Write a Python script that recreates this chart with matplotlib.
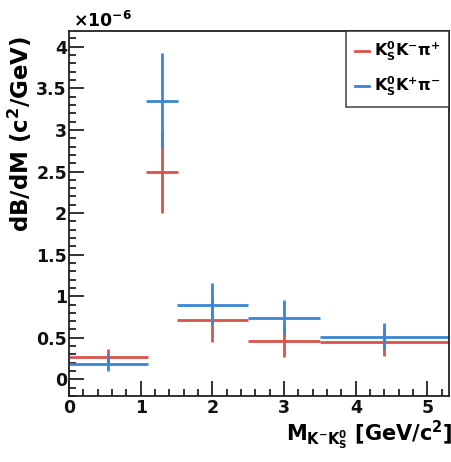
import matplotlib
matplotlib.use("Agg")
import matplotlib.pyplot as plt
from matplotlib.lines import Line2D
from matplotlib.ticker import MultipleLocator
import numpy as np

plt.rcParams["font.family"] = ["DejaVu Sans"]
plt.rcParams["font.weight"] = "bold"
plt.rcParams["mathtext.fontset"] = "custom"
plt.rcParams["mathtext.rm"] = "DejaVu Sans:bold"
plt.rcParams["mathtext.it"] = "DejaVu Sans:bold"
plt.rcParams["mathtext.bf"] = "DejaVu Sans:bold"

# Mass bins (GeV/c^2)
bin_lo = [0.0, 1.07, 1.5, 2.5, 3.5]
bin_hi = [1.1, 1.52, 2.5, 3.5, 5.3]
bin_center = [0.55, 1.30, 2.0, 3.0, 4.39]

# dB/dM in units of 1e-6 (c^2/GeV)
kskm_pip = [0.27, 2.50, 0.715, 0.46, 0.45]
kskm_pip_lo = [0.17, 2.00, 0.45, 0.27, 0.28]
kskm_pip_hi = [0.37, 3.00, 0.98, 0.65, 0.60]

kskp_pim = [0.19, 3.35, 0.895, 0.74, 0.51]
kskp_pim_lo = [0.10, 2.78, 0.65, 0.55, 0.37]
kskp_pim_hi = [0.30, 3.93, 1.16, 0.95, 0.675]

labels = [r"$\mathrm{K_S^0K^{-}\pi^{+}}$", r"$\mathrm{K_S^0K^{+}\pi^{-}}$"]

RED = "#d9534c"
BLUE = "#3a86d6"

fig = plt.figure(figsize=(4.52, 4.62), dpi=100)
ax = fig.add_axes([69 / 452, 1 - 396 / 462, (449 - 69) / 452, (396 - 31) / 462])


def draw(vals, lo, hi, color):
    x = np.array(bin_center)
    y = np.array(vals)
    xerr = [x - np.array(bin_lo), np.array(bin_hi) - x]
    yerr = [y - np.array(lo), np.array(hi) - y]
    ax.errorbar(x, y, xerr=xerr, yerr=yerr, fmt="none", ecolor=color,
                elinewidth=2, capsize=0)


draw(kskm_pip, kskm_pip_lo, kskm_pip_hi, RED)
draw(kskp_pim, kskp_pim_lo, kskp_pim_hi, BLUE)

ax.set_xlim(0, 5.3)
ax.set_ylim(-0.2, 4.19)
ax.xaxis.set_major_locator(MultipleLocator(1))
ax.xaxis.set_minor_locator(MultipleLocator(0.2))
ax.yaxis.set_major_locator(MultipleLocator(0.5))
ax.yaxis.set_minor_locator(MultipleLocator(0.1))
ax.yaxis.set_major_formatter(plt.FuncFormatter(lambda v, p: f"{v:g}"))
ax.tick_params(which="both", direction="in", top=False, right=False,
               labelsize=12.5, width=1.2, colors="#111111")
ax.tick_params(which="major", length=11)
ax.tick_params(which="minor", length=5)
ax.tick_params(axis="y", which="major", pad=1.5)
ax.tick_params(axis="x", which="major", pad=2)
for lab in ax.get_xticklabels() + ax.get_yticklabels():
    lab.set_fontweight("bold")
for s in ax.spines.values():
    s.set_linewidth(1.3)
    s.set_color("#222222")

ax.text(0.01, 1.0, r"$\times 10^{-6}$", transform=ax.transAxes,
        fontsize=12.5, ha="left", va="bottom")

fig.text(20 / 452, 1 - 36 / 462, r"dB/dM (c$^2$/GeV)", rotation=90,
         fontsize=16.5, fontweight="bold", ha="center", va="top")
fig.text(452 / 452, 1 - 440 / 462, r"M$_{\mathrm{K^{-}K_S^0}}$ [GeV/c$^2$]",
         fontsize=15, fontweight="bold", ha="right", va="baseline")

handles = [Line2D([], [], color=RED, lw=2), Line2D([], [], color=BLUE, lw=2)]
leg = ax.legend(handles, labels, loc="upper right", borderaxespad=0,
                fancybox=False, frameon=True, fontsize=11.5, handlelength=0.9,
                handletextpad=0.3, borderpad=0.55, labelspacing=0.75)
leg.get_frame().set_edgecolor("#222222")
leg.get_frame().set_linewidth(1.2)

fig.savefig("out.png", dpi=100)
